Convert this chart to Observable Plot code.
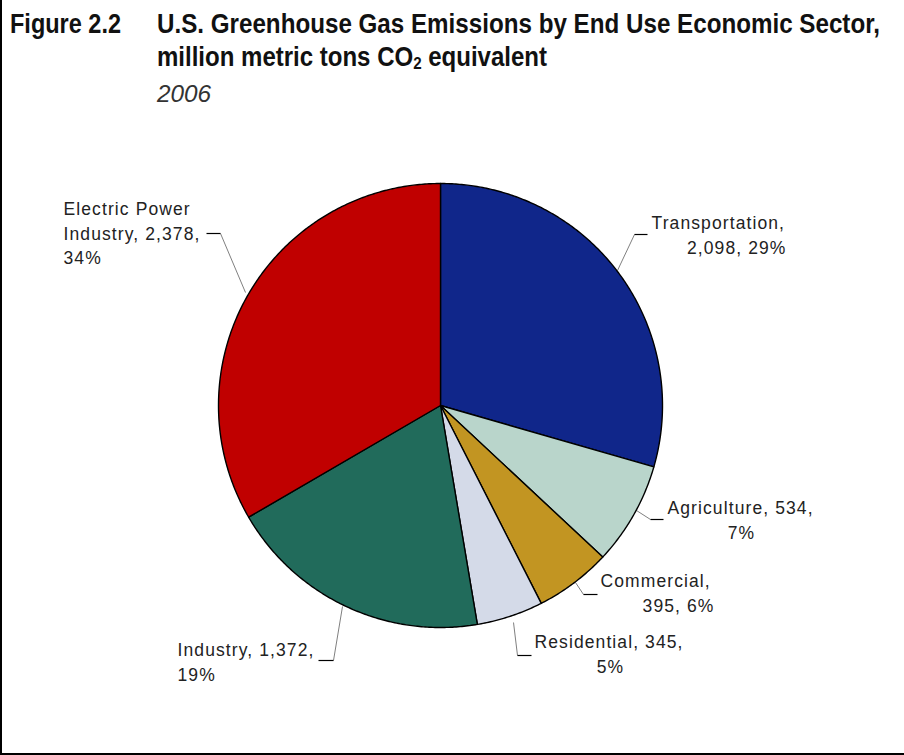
<!DOCTYPE html>
<html><head><meta charset="utf-8">
<script src="https://cdn.jsdelivr.net/npm/d3@7"></script>
<script src="https://cdn.jsdelivr.net/npm/@observablehq/plot@0.6"></script>
<style>
html,body{margin:0;padding:0;background:#fff;}
#wrap{position:relative;width:904px;height:755px;overflow:hidden;font-family:"Liberation Sans",Arial,sans-serif;}
#frame{position:absolute;left:0;top:0;width:904px;height:755px;border-left:2px solid #000;border-bottom:2px solid #000;box-sizing:border-box;pointer-events:none;}
.t{position:absolute;white-space:nowrap;transform-origin:0 0;line-height:1;color:#111;}
.b{font-weight:bold;font-size:27px;font-family:"Liberation Sans Narrow","Liberation Sans",Arial,sans-serif;}
#year{font-style:italic;font-size:24px;color:#333;}
#chart{position:absolute;left:0;top:115px;}
</style></head>
<body><div id="wrap">
<div class="t b" id="fig" data-w="111" style="left:10px;top:11px;">Figure 2.2</div>
<div class="t b" id="title1" data-w="723" style="left:157px;top:11px;">U.S. Greenhouse Gas Emissions by End Use Economic Sector,</div>
<div class="t b" id="title2" data-w="390" style="left:157px;top:44px;">million metric tons CO<sub style="font-size:17px;vertical-align:-3px;">2</sub> equivalent</div>
<div class="t" id="year" data-w="54" style="left:157px;top:82px;">2006</div>
<div id="chart"></div>
<div id="frame"></div>
</div>
<script>
// ---- data ----
const sectors = ["Transportation", "Agriculture", "Commercial", "Residential", "Industry", "Electric Power Industry"];
const emissions = [2098, 534, 395, 345, 1372, 2378];
const shares = ["29%", "7%", "6%", "5%", "19%", "34%"];
// ---- style ----
const palette = ["#10268A", "#B9D5CB", "#C29522", "#D4DAE8", "#216B5B", "#C00000"];

// ---- layout (page px) ----
const OFF = 115;             // svg top offset on page
const CX = 440, CY = 405, R = 222;
// token counts per line when wrapping label text
const wraps = [[1, 2], [2, 1], [1, 2], [2, 1], [2, 1], [2, 2, 1]];
// per-line anchor x / align, and first line centre y
const labelPos = [
  {y: 223, lines: [[651, "start"], [786, "end"]]},
  {y: 508, lines: [[667, "start"], [741, "middle"]]},
  {y: 581, lines: [[600, "start"], [714, "end"]]},
  {y: 642, lines: [[534, "start"], [610, "middle"]]},
  {y: 650, lines: [[177, "start"], [177, "start"]]},
  {y: 209, lines: [[63, "start"], [63, "start"], [63, "start"]]}
];
const LINE = 24.5;
// leader: pie edge -> elbow -> end of short tick
const leaders = [
  [[617, 270], [634, 234], [647, 234]],
  [[636, 510], [650, 519], [663, 519]],
  [[575, 582], [583, 594], [597, 594]],
  [[513, 622], [517, 655], [531, 655]],
  [[342, 606], [333, 660], [318, 660]],
  [[245, 292], [220, 233], [206, 233]]
];

// ---- build ----
const data = sectors.map((name, i) => ({name, value: emissions[i], share: shares[i]}));
const arcs = d3.pie().sort(null).value(d => d.value).startAngle(0).endAngle(2 * Math.PI)(data);
const pts = [];
for (const a of arcs) {
  const name = a.data.name;
  pts.push({name, x: CX, y: CY - OFF});
  const n = Math.max(2, Math.ceil((a.endAngle - a.startAngle) / (Math.PI / 360)));
  for (let k = 0; k <= n; k++) {
    const t = a.startAngle + (a.endAngle - a.startAngle) * k / n;
    pts.push({name, x: CX + R * Math.sin(t), y: CY - OFF - R * Math.cos(t)});
  }
  pts.push({name, x: CX, y: CY - OFF});
}
const fmt = d3.format(",");
const textLines = [];
data.forEach((d, i) => {
  const tokens = `${d.name}, ${fmt(d.value)}, ${d.share}`.split(" ");
  let p = 0;
  wraps[i].forEach((cnt, j) => {
    const s = tokens.slice(p, p + cnt).join(" ");
    p += cnt;
    const [lx, anchor] = labelPos[i].lines[j];
    textLines.push({text: s, x: lx, y: labelPos[i].y + j * LINE - OFF, anchor});
  });
});
const gray = leaders.map(l => ({x1: l[0][0], y1: l[0][1] - OFF, x2: l[1][0], y2: l[1][1] - OFF}));
const ticks = leaders.map(l => ({x1: l[1][0], y1: l[1][1] - OFF, x2: l[2][0], y2: l[2][1] - OFF}));

const W = 904, H = 638;
const textOpts = a => ({x: "x", y: "y", text: "text", textAnchor: a, lineAnchor: "middle", fontSize: 17.5, fill: "#222"});
const chart = Plot.plot({
  width: W, height: H,
  margin: 0,
  x: {domain: [0, W], range: [0, W], axis: null},
  y: {domain: [0, H], range: [0, H], axis: null},
  color: {domain: sectors, range: palette},
  style: {fontFamily: "'Liberation Sans', Arial, sans-serif", letterSpacing: "1.1px", background: "transparent", overflow: "visible"},
  marks: [
    Plot.link(gray, {x1: "x1", y1: "y1", x2: "x2", y2: "y2", stroke: "#808080", strokeWidth: 1}),
    Plot.link(ticks, {x1: "x1", y1: "y1", x2: "x2", y2: "y2", stroke: "#000", strokeWidth: 1.2}),
    Plot.line(pts, {x: "x", y: "y", z: "name", fill: "name", stroke: "#000", strokeWidth: 1.4, strokeLinejoin: "round", curve: "linear"}),
    Plot.text(textLines.filter(d => d.anchor === "start"), textOpts("start")),
    Plot.text(textLines.filter(d => d.anchor === "middle"), textOpts("middle")),
    Plot.text(textLines.filter(d => d.anchor === "end"), textOpts("end"))
  ]
});
document.getElementById("chart").appendChild(chart);

// fit the condensed title lines to the reference widths
document.querySelectorAll(".t[data-w]").forEach(el => {
  const w = el.getBoundingClientRect().width;
  const target = +el.dataset.w;
  if (w > 0) el.style.transform = `scaleX(${target / w})`;
});
</script>
</body></html>
